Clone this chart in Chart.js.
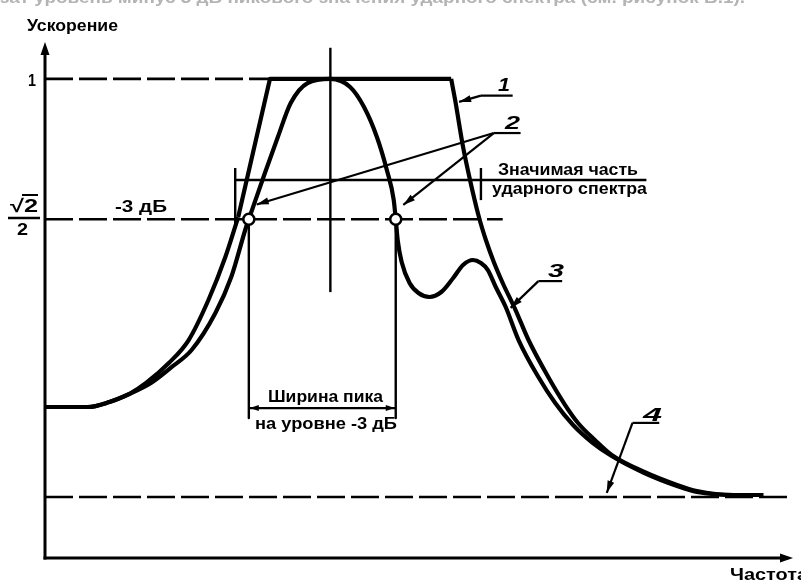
<!DOCTYPE html>
<html><head><meta charset="utf-8">
<script src="https://cdn.jsdelivr.net/npm/chart.js@4"></script>
<style>html,body{margin:0;padding:0;background:#fff;overflow:hidden}canvas{display:block}</style>
</head><body>
<canvas id="c" width="801" height="584"></canvas>
<script>
// Frequency in arbitrary units (0..100), acceleration normalised to peak = 1
// Curve 1: envelope (left rise, trapezoid top, right tail)
const envLeftF  = [0, 5.70, 8.61, 11.26, 13.51, 16.56, 19.21, 21.85, 24.11, 25.83];
const envLeftA  = [0.3152, 0.3152, 0.3256, 0.3423, 0.3653, 0.4070, 0.4550, 0.5385, 0.6283, 0.7117];
const envTopF   = [25.83, 30.07, 54.30];
const envTopA   = [0.7117, 1, 1];
const envRightF = [54.30, 54.83, 55.89, 56.82, 58.01, 58.94, 60.00, 61.19, 62.91, 64.64, 67.28, 69.54, 71.26, 73.51, 75.76, 80.13, 84.50, 87.15, 92.05, 96.03];
const envRightA = [1, 0.956, 0.8579, 0.7890, 0.7117, 0.6637, 0.6178, 0.5740, 0.5176, 0.4550, 0.3778, 0.3193, 0.2818, 0.2463, 0.2150, 0.1795, 0.1524, 0.1398, 0.1315, 0.1315];
// Curve 3: shock response spectrum
const srsF = [0, 5.70, 8.61, 11.26, 14.17, 16.95, 19.60, 22.78, 24.90, 26.89, 27.25, 29.40, 31.13, 32.85, 35.10, 38.15, 40.79, 42.65, 44.37, 45.70, 46.62, 46.89, 47.15, 47.68, 48.74, 49.93, 51.39, 52.98, 54.57, 55.89, 57.22, 58.28, 59.21, 60.26, 61.59, 63.31, 65.96, 68.21, 70.60, 73.25, 75.76, 80.13, 84.50, 87.15, 92.05, 96.03];
const srsA = [0.3152, 0.3152, 0.3256, 0.3423, 0.3653, 0.3987, 0.4341, 0.5114, 0.5865, 0.6909, 0.7071, 0.8036, 0.8787, 0.9497, 0.9914, 1, 0.9831, 0.9413, 0.8787, 0.8098, 0.7472, 0.7071, 0.6637, 0.6178, 0.5740, 0.5531, 0.5448, 0.5552, 0.5844, 0.6116, 0.6220, 0.6157, 0.6011, 0.5656, 0.5239, 0.4550, 0.3778, 0.3235, 0.2776, 0.2400, 0.2129, 0.1774, 0.1503, 0.1378, 0.1315, 0.1315];
// -3 dB points
const halfF = [27.25, 46.89];
const halfA = [0.7071, 0.7071];
// reference levels
const levelOneF = [0, 30.07];       const levelOneA = [1, 1];
const levelHalfF = [0, 61.19];      const levelHalfA = [0.7071, 0.7071];
const levelFloorF = [0, 100];       const levelFloorA = [0.1273, 0.1273];   // curve 4
const centerF = [38.15, 38.15];     const centerA = [0.555, 1.065];
const widthLeftF = [27.25, 27.25];  const widthRightF = [46.89, 46.89]; const widthA = [0.7071, 0.292];
const signifF = [25.43, 80.40];     const signifA = [0.789, 0.789];
const signifTickLF = [25.43, 25.43]; const signifTickLA = [0.691, 0.814];
const signifTickRF = [58.28, 58.28]; const signifTickRA = [0.747, 0.814];
const widthArrowF = [27.25, 46.89]; const widthArrowA = [0.313, 0.313];
// leader lines: underline [start f, end f, a] and arrow targets [f, a]
const leaders = [
  {u:[58.28, 62.52, 0.965], to:[[55.36, 0.952]]},
  {u:[60.00, 63.58, 0.887], to:[[28.3, 0.738], [47.9, 0.737]]},
  {u:[65.96, 69.14, 0.578], to:[[62.25, 0.522]]},
  {u:[78.54, 82.12, 0.282], to:[[75.10, 0.136]]}
];
const axisTopA = 1.077, axisRightF = 100;

const pts = (f, a) => f.map((v, i) => ({x: v, y: a[i]}));
const solid = (f, a, w, extra) => Object.assign({data: pts(f, a), showLine: true, pointRadius: 0, borderColor: '#000', borderWidth: w, fill: false, tension: 0, order: 1}, extra || {});
const smooth = {cubicInterpolationMode: 'monotone'};
const dash = {borderDash: [28, 6]};

function fitText(ctx, t, x, y, w, s, italic) {
  ctx.font = (italic ? 'italic ' : '') + 'bold ' + s + 'px "Liberation Sans", Arial, sans-serif';
  const m = ctx.measureText(t).width;
  ctx.save(); ctx.translate(x, y); ctx.scale(w / m, 1); ctx.fillText(t, 0, 0); ctx.restore();
}
function arrowHead(ctx, x0, y0, x1, y1, len, hw) {
  const ang = Math.atan2(y1 - y0, x1 - x0);
  ctx.save(); ctx.translate(x1, y1); ctx.rotate(ang);
  ctx.beginPath(); ctx.moveTo(0, 0); ctx.lineTo(-len, -hw); ctx.lineTo(-len, hw); ctx.closePath(); ctx.fill();
  ctx.restore();
}
function seg(ctx, x0, y0, x1, y1) { ctx.beginPath(); ctx.moveTo(x0, y0); ctx.lineTo(x1, y1); ctx.stroke(); }

const texts = [
  {t: 'Ускорение', x: 27, y: 31, w: 91, s: 17},
  {t: '1', x: 28, y: 86, w: 8, s: 17},
  {t: '√2', x: 10, y: 212, w: 28, s: 18},
  {t: '2', x: 17, y: 235, w: 11, s: 16},
  {t: '-3 дБ', x: 115, y: 212, w: 52, s: 16},
  {t: 'Значимая часть', x: 498, y: 175, w: 140, s: 16},
  {t: 'ударного спектра', x: 492, y: 194, w: 155, s: 16},
  {t: 'Ширина пика', x: 268, y: 402, w: 115, s: 16},
  {t: 'на уровне -3 дБ', x: 255, y: 429, w: 142, s: 16},
  {t: '1', x: 498, y: 91, w: 12, s: 19, i: true},
  {t: '2', x: 505, y: 129, w: 15, s: 19, i: true},
  {t: '3', x: 548, y: 277, w: 16, s: 19, i: true},
  {t: '4', x: 643, y: 421, w: 19, s: 19, i: true},
  {t: 'Частота', x: 730, y: 580, w: 78, s: 16}
];

const overlay = {
  id: 'overlay',
  afterDatasetsDraw(chart) {
    const {ctx, scales: {x, y}} = chart;
    const P = (f, a) => [x.getPixelForValue(f), y.getPixelForValue(a)];
    ctx.save();
    ctx.strokeStyle = '#000'; ctx.fillStyle = '#000'; ctx.lineCap = 'butt';
    // axes
    const [ox, oy] = P(0, 0), [tx, ty] = P(0, axisTopA), [rx, ry] = P(axisRightF, 0);
    ctx.lineWidth = 3;
    seg(ctx, ox, oy + 1.5, tx, ty + 8);
    seg(ctx, ox - 1.5, oy, rx - 8, ry);
    arrowHead(ctx, ox, oy, tx, ty, 13, 4.5);
    arrowHead(ctx, ox, oy, rx, ry, 13, 4.5);
    // width arrow heads
    const [wl, wy] = P(widthArrowF[0], widthArrowA[0]), [wr] = P(widthArrowF[1], widthArrowA[1]);
    arrowHead(ctx, wr, wy, wl + 1, wy, 9, 3);
    arrowHead(ctx, wl, wy, wr - 1, wy, 9, 3);
    // leaders
    ctx.lineWidth = 2.2;
    leaders.forEach(L => {
      const [u0, uy] = P(L.u[0], L.u[2]), [u1] = P(L.u[1], L.u[2]);
      seg(ctx, u0, uy, u1, uy);
      L.to.forEach(([f, a]) => {
        const [px, py] = P(f, a);
        seg(ctx, u0, uy, px, py);
        arrowHead(ctx, u0, uy, px, py, 12, 3.5);
      });
    });
    // texts
    ctx.textAlign = 'left'; ctx.textBaseline = 'alphabetic';
    texts.forEach(T => fitText(ctx, T.t, T.x, T.y, T.w, T.s, T.i));
    // sqrt overbar and fraction bar
    ctx.lineWidth = 2;
    seg(ctx, 22, 195, 38, 195);
    ctx.lineWidth = 2.5;
    seg(ctx, 8, 218, 40, 218);
    // cropped caption line at top (only lower part of glyphs visible)
    ctx.fillStyle = '#b4b4b4';
    ctx.filter = 'blur(0.5px)';
    fitText(ctx, 'зат уровень минус 3 дБ пикового значения ударного спектра (см. рисунок В.1).', 0, 3, 745, 17, false);
    ctx.restore();
  }
};

new Chart(document.getElementById('c'), {
  type: 'scatter',
  data: {
    datasets: [
      {data: pts(halfF, halfA), showLine: false, pointRadius: 5.5, pointBorderWidth: 2.5, pointBackgroundColor: '#fff', pointBorderColor: '#000', order: 0},
      solid(levelOneF, levelOneA, 2.6, dash),
      solid(levelHalfF, levelHalfA, 2.6, dash),
      solid(levelFloorF, levelFloorA, 2.6, dash),
      solid(centerF, centerA, 2.4),
      solid(widthLeftF, widthA, 2.4),
      solid(widthRightF, widthA, 2.4),
      solid(signifF, signifA, 2.4),
      solid(signifTickLF, signifTickLA, 2.4),
      solid(signifTickRF, signifTickRA, 2.4),
      solid(widthArrowF, widthArrowA, 2.2),
      solid(envLeftF, envLeftA, 4.2, smooth),
      solid(envTopF, envTopA, 4.2),
      solid(envRightF, envRightA, 4.2, smooth),
      solid(srsF, srsA, 4.2, smooth)
    ]
  },
  options: {
    responsive: false, animation: false, devicePixelRatio: 1,
    layout: {padding: {left: 45, right: 1, top: 31, bottom: 26}},
    scales: {
      x: {type: 'linear', min: 0, max: 100, display: false},
      y: {type: 'linear', min: 0, max: 1.1, display: false}
    },
    plugins: {legend: {display: false}, tooltip: {enabled: false}},
    elements: {line: {borderJoinStyle: 'round', borderCapStyle: 'butt'}}
  },
  plugins: [overlay]
});
</script>
</body></html>
